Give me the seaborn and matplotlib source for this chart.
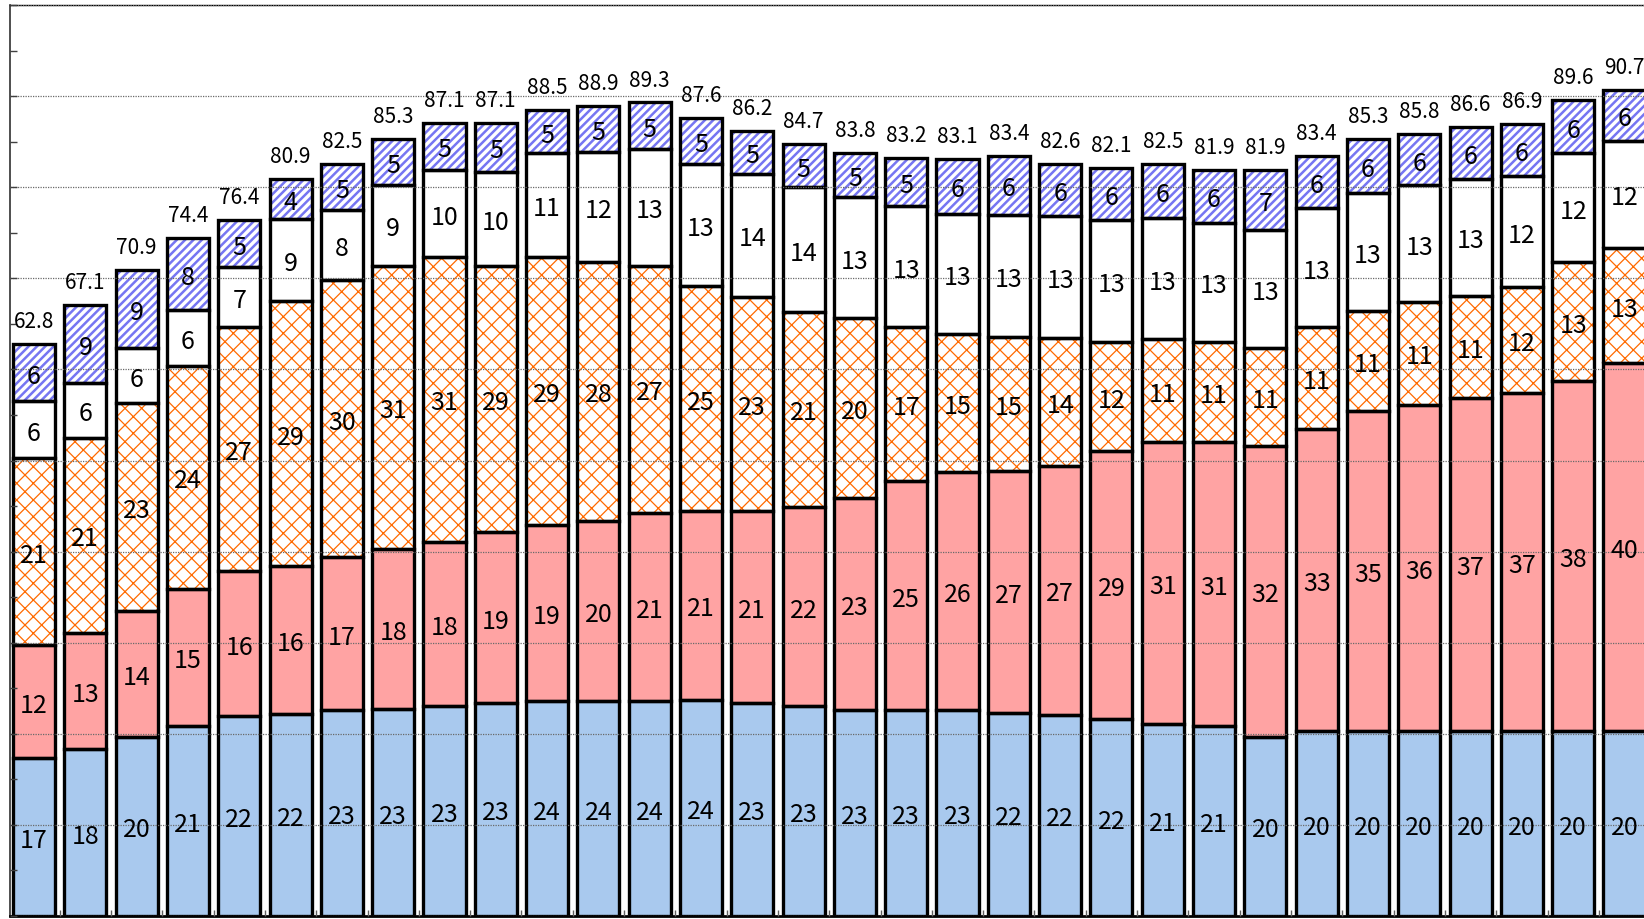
import matplotlib
matplotlib.use("Agg")
import matplotlib.pyplot as plt
import numpy as np
import pandas as pd
import seaborn as sns
from matplotlib.ticker import MultipleLocator, FixedLocator, NullFormatter

# ---------------- data ----------------
periods = [f"P{i:02d}" for i in range(1, 33)]

totals = [62.8, 67.1, 70.9, 74.4, 76.4, 80.9, 82.5, 85.3, 87.1, 87.1,
          88.5, 88.9, 89.3, 87.6, 86.2, 84.7, 83.8, 83.2, 83.1, 83.4,
          82.6, 82.1, 82.5, 81.9, 81.9, 83.4, 85.3, 85.8, 86.6, 86.9,
          89.6, 90.7]

seg_blue = [17.3, 18.3, 19.7, 20.9, 21.9, 22.2, 22.6, 22.7, 23.1, 23.4,
            23.6, 23.6, 23.6, 23.7, 23.4, 23.0, 22.6, 22.6, 22.6, 22.3,
            22.1, 21.6, 21.1, 20.9, 19.7, 20.3, 20.3, 20.3, 20.3, 20.3,
            20.3, 20.3]
seg_pink = [12.4, 12.8, 13.8, 15.0, 16.0, 16.2, 16.8, 17.6, 18.0, 18.7,
            19.3, 19.8, 20.6, 20.8, 21.1, 21.9, 23.3, 25.1, 26.1, 26.6,
            27.3, 29.4, 30.9, 31.1, 31.9, 33.2, 35.1, 35.8, 36.6, 37.1,
            38.4, 40.4]
seg_orange = [20.6, 21.4, 22.8, 24.5, 26.7, 29.1, 30.4, 31.1, 31.2, 29.2,
              29.4, 28.4, 27.2, 24.6, 23.4, 21.4, 19.7, 16.9, 15.2, 14.7,
              14.0, 12.0, 11.3, 11.0, 10.7, 11.1, 11.0, 11.3, 11.2, 11.6,
              13.1, 12.6]
seg_white = [6.2, 6.0, 6.0, 6.1, 6.6, 9.0, 7.7, 8.8, 9.6, 10.4,
             11.4, 12.1, 12.8, 13.4, 13.6, 13.7, 13.3, 13.3, 13.2, 13.4,
             13.4, 13.4, 13.3, 13.1, 13.0, 13.1, 13.0, 12.8, 12.8, 12.2,
             11.9, 11.8]
seg_stripe = [6.3, 8.6, 8.6, 7.9, 5.2, 4.4, 5.0, 5.1, 5.2, 5.4,
              4.8, 5.0, 5.1, 5.1, 4.7, 4.7, 4.9, 5.3, 6.0, 6.4,
              5.8, 5.7, 5.9, 5.8, 6.6, 5.7, 5.9, 5.6, 5.7, 5.7,
              5.9, 5.6]

df = pd.DataFrame({
    "period": periods,
    "blue": seg_blue,
    "pink": seg_pink,
    "orange": seg_orange,
    "white": seg_white,
    "stripe": seg_stripe,
    "total": totals,
})

# ---------------- styles ----------------
styles = [
    # column, face, hatch, hatch colour, hatch linewidth
    ("blue", "#A9C9EE", None, None, 1.0),
    ("pink", "#FFA3A3", None, None, 1.0),
    ("orange", "#FFFFFF", "xx", "#FF6A00", 0.9),
    ("white", "#FFFFFF", None, None, 1.0),
    ("stripe", "#FFFFFF", "////", "#7676F2", 1.8),
]

LABEL_FONT = ["Liberation Sans Narrow", "Noto Sans CJK JP", "DejaVu Sans"]

fig = plt.figure(figsize=(16.44, 9.2), dpi=100)
W, H = 1644.0, 920.0
ax = fig.add_axes([9.5 / W, 3 / H, (W - 9.5) / W, 911 / H])

BAR_W = 0.82
cum = np.zeros(len(periods))
for col, face, hatch, hcolor, hlw in styles:
    vals = df[col].to_numpy(dtype=float)
    plt.rcParams["hatch.linewidth"] = hlw
    n0 = len(ax.patches)
    sns.barplot(data=df, x="period", y=col, order=periods, bottom=cum,
                width=BAR_W, errorbar=None, saturation=1, color=face, ax=ax)
    for p in ax.patches[n0:]:
        p.set_facecolor(face)
        p.set_linewidth(0)
        p.set_zorder(1)
        if hatch:
            p.set_edgecolor(hcolor)
            p.set_hatch(hatch)
            if hasattr(p, "set_hatch_linewidth"):
                p.set_hatch_linewidth(hlw)
        else:
            p.set_edgecolor("none")
    # black outlines of the segment
    n1 = len(ax.patches)
    sns.barplot(data=df, x="period", y=col, order=periods, bottom=cum,
                width=BAR_W, errorbar=None, saturation=1, color="black",
                fill=False, ax=ax)
    for p in ax.patches[n1:]:
        p.set_facecolor("none")
        p.set_edgecolor("black")
        p.set_hatch(None)
        p.set_linewidth(2.4)
        p.set_zorder(1.2)
    for i, v in enumerate(vals):
        ax.text(i, cum[i] + v / 2, f"{v:.0f}", ha="center", va="center_baseline",
                fontsize=18, family=LABEL_FONT, color="black", zorder=4)
    cum = cum + vals

for i, t in enumerate(df["total"]):
    ax.annotate(f"{t:.1f}", (i, t), xytext=(0, 12.2), textcoords="offset points",
                ha="center", va="baseline", fontsize=15, family=LABEL_FONT,
                color="black", zorder=4, annotation_clip=False)

# ---------------- axes styling ----------------
ax.set_xlim(-0.478, 31.38)
ax.set_ylim(0, 100)
ax.set_xlabel("")
ax.set_ylabel("")

ax.yaxis.set_major_locator(MultipleLocator(10))
ax.yaxis.set_minor_locator(MultipleLocator(5))
ax.yaxis.set_major_formatter(NullFormatter())
ax.xaxis.set_major_locator(FixedLocator(np.arange(0.5, len(periods) - 0.5, 1.0)))
ax.xaxis.set_major_formatter(NullFormatter())

ax.tick_params(axis="y", which="both", direction="in", left=True, right=False,
               length=5, width=1, color="#404040", labelleft=False)
ax.tick_params(axis="x", which="major", direction="in", bottom=True, top=False,
               length=4, width=1, color="#606060", labelbottom=False)

ax.set_axisbelow(False)
ax.yaxis.grid(True, which="major", linestyle=(0, (1, 1)), color="#6a6a6a", linewidth=0.9)
ax.xaxis.grid(False)

for side in ["right"]:
    ax.spines[side].set_visible(False)
ax.spines["top"].set_color("black")
ax.spines["top"].set_linewidth(1.0)
ax.spines["left"].set_color("#303030")
ax.spines["left"].set_linewidth(1.2)
ax.spines["bottom"].set_color("black")
ax.spines["bottom"].set_linewidth(2.0)
ax.set_facecolor("white")
fig.patch.set_facecolor("white")

fig.savefig("out.png", dpi=100)
